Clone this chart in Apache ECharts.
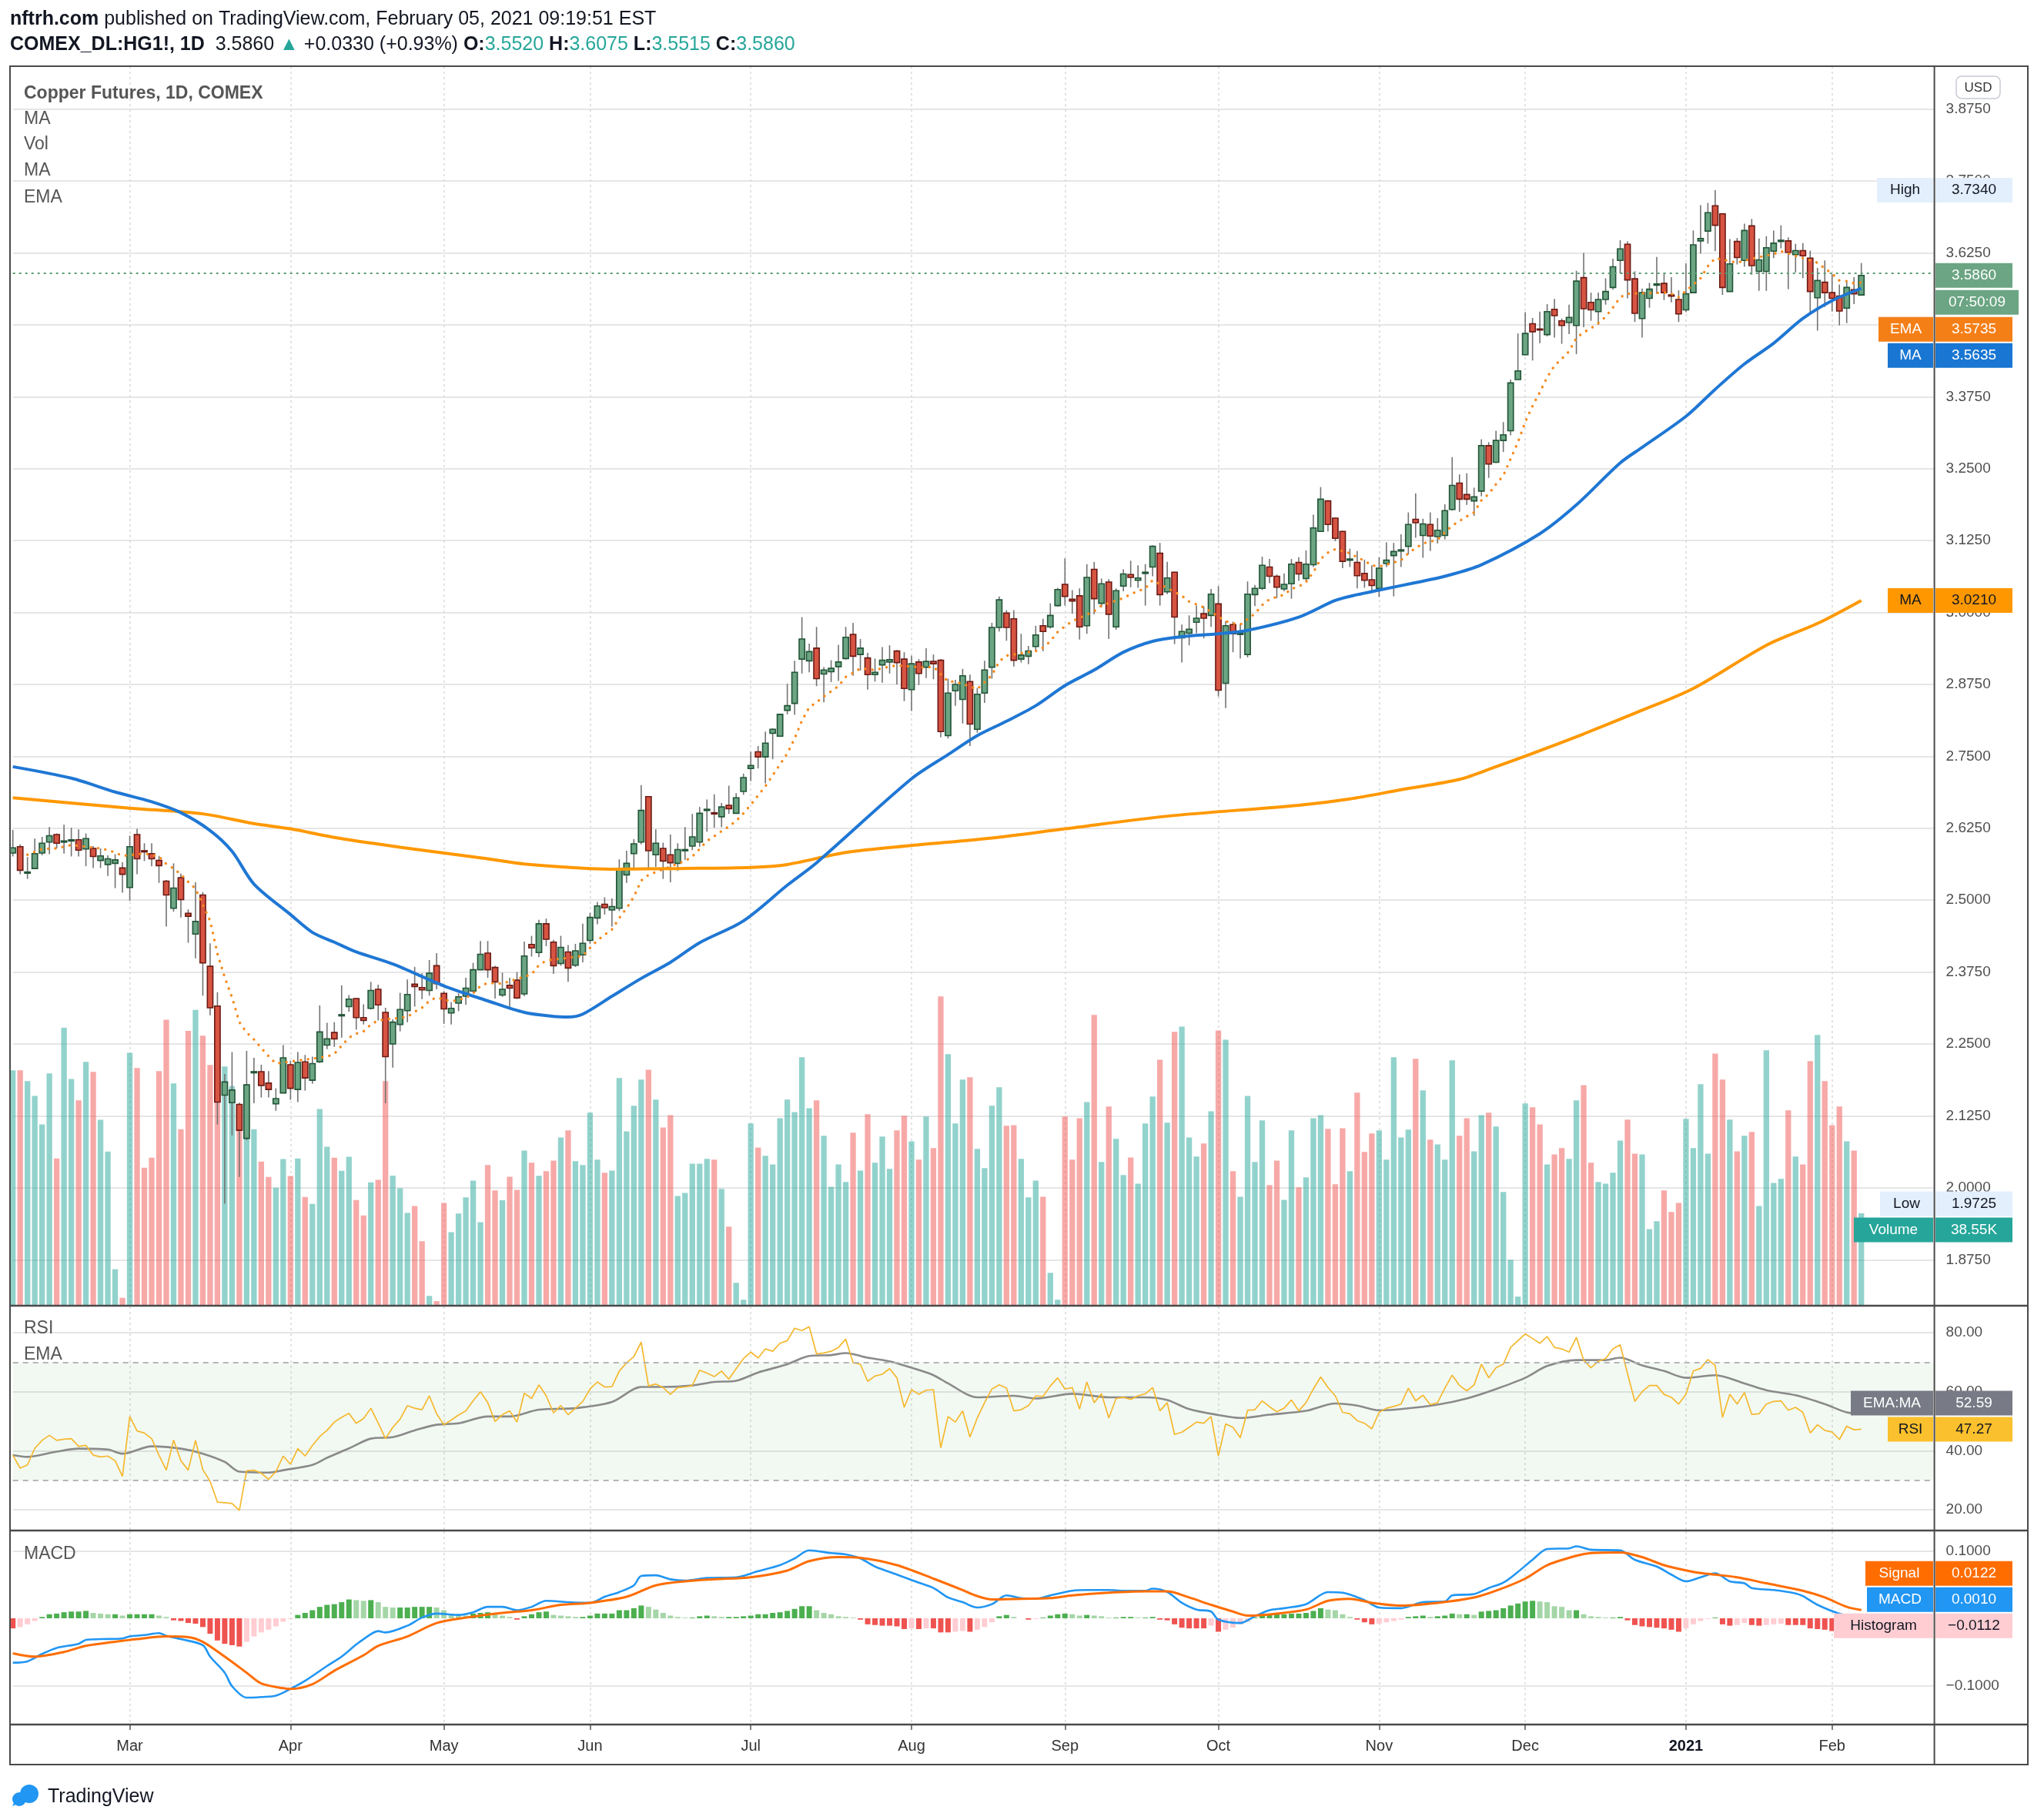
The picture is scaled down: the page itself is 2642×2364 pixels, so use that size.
<!DOCTYPE html>
<html><head><meta charset="utf-8">
<script src="https://cdn.jsdelivr.net/npm/echarts@6/dist/echarts.min.js"></script>
<style>html,body{margin:0;padding:0;background:#fff;}#c{width:2642px;height:2364px;}</style>
</head><body><div id="c"></div>
<script>
// ---------- DATA ----------
const firstDay = '2020-02-07', lastDay = '2021-02-19';
const holidays = ['2020-04-10','2020-05-25','2020-07-03','2020-09-07','2020-11-26','2020-12-25','2021-01-01'];
const monthNames = ['Jan','Feb','Mar','Apr','May','Jun','Jul','Aug','Sep','Oct','Nov','Dec'];

const opens = [
2.582,2.593,2.548,2.555,2.582,2.601,2.614,2.602,2.604,2.605,
2.589,2.590,2.569,2.562,2.564,2.556,2.522,2.614,2.586,2.581,
2.569,2.533,2.486,2.539,2.477,2.441,2.509,2.385,2.316,2.161,
2.148,2.145,2.086,2.200,2.202,2.182,2.146,2.165,2.214,2.171,
2.219,2.187,2.219,2.248,2.270,2.299,2.315,2.329,2.296,2.312,
2.345,2.305,2.250,2.284,2.308,2.354,2.348,2.343,2.386,2.338,
2.304,2.321,2.333,2.342,2.379,2.408,2.383,2.335,2.352,2.361,
2.337,2.423,2.409,2.459,2.427,2.390,2.410,2.387,2.405,2.430,
2.469,2.493,2.483,2.486,2.544,2.581,2.601,2.680,2.579,2.590,
2.579,2.564,2.586,2.594,2.601,2.657,2.652,2.645,2.665,2.651,
2.689,2.729,2.758,2.749,2.790,2.785,2.830,2.842,2.919,2.916,
2.938,2.893,2.897,2.906,2.920,2.962,2.927,2.921,2.892,2.909,
2.914,2.933,2.919,2.866,2.914,2.905,2.915,2.917,2.786,2.864,
2.849,2.880,2.797,2.860,2.905,2.974,2.999,2.989,2.919,2.924,
2.941,2.977,2.975,3.012,3.049,3.023,3.029,2.977,3.075,3.016,
3.053,2.975,3.046,3.066,3.056,3.068,3.079,3.103,3.036,3.070,
2.956,2.964,2.983,2.998,2.995,3.015,2.877,2.979,2.963,2.927,
3.031,3.042,3.079,3.063,3.041,3.050,3.087,3.059,3.083,3.141,
3.194,3.164,3.141,3.092,3.087,3.068,3.057,3.042,3.085,3.099,
3.108,3.115,3.162,3.134,3.153,3.132,3.134,3.179,3.225,3.205,
3.194,3.211,3.290,3.261,3.299,3.316,3.405,3.448,3.502,3.493,
3.483,3.527,3.507,3.504,3.499,3.582,3.539,3.523,3.544,3.565,
3.612,3.640,3.580,3.511,3.546,3.569,3.572,3.552,3.544,3.526,
3.556,3.646,3.663,3.707,3.693,3.558,3.645,3.612,3.672,3.593,
3.593,3.628,3.645,3.646,3.622,3.629,3.616,3.547,3.574,3.556,
3.550,3.529,3.561,3.552];
const highs = [
2.622,2.597,2.575,2.607,2.610,2.627,2.616,2.631,2.626,2.623,
2.616,2.594,2.590,2.578,2.580,2.566,2.612,2.624,2.599,2.599,
2.577,2.535,2.564,2.546,2.484,2.531,2.514,2.425,2.340,2.198,
2.236,2.148,2.238,2.226,2.214,2.203,2.173,2.248,2.221,2.236,
2.231,2.228,2.317,2.287,2.288,2.352,2.335,2.330,2.319,2.358,
2.353,2.313,2.293,2.339,2.362,2.384,2.373,2.396,2.408,2.342,
2.323,2.338,2.365,2.391,2.429,2.429,2.386,2.374,2.365,2.375,
2.428,2.438,2.466,2.468,2.431,2.438,2.422,2.424,2.459,2.478,
2.497,2.505,2.503,2.571,2.586,2.606,2.700,2.681,2.623,2.600,
2.614,2.599,2.627,2.650,2.662,2.675,2.684,2.669,2.699,2.686,
2.720,2.758,2.768,2.793,2.799,2.824,2.876,2.916,2.992,2.946,
2.975,2.905,2.917,2.944,2.975,2.982,2.954,2.930,2.920,2.940,
2.943,2.935,2.931,2.925,2.919,2.938,2.927,2.919,2.885,2.883,
2.902,2.892,2.869,2.916,2.982,3.028,3.004,3.004,2.963,2.942,
2.977,2.989,3.016,3.043,3.094,3.039,3.042,3.084,3.088,3.059,
3.058,3.042,3.075,3.090,3.082,3.084,3.117,3.121,3.088,3.071,
2.979,2.995,3.012,3.011,3.041,3.046,2.985,2.984,2.980,3.054,
3.048,3.097,3.093,3.066,3.068,3.093,3.096,3.108,3.170,3.218,
3.195,3.165,3.142,3.111,3.107,3.092,3.082,3.096,3.122,3.121,
3.136,3.174,3.207,3.163,3.174,3.164,3.188,3.270,3.240,3.242,
3.217,3.301,3.296,3.316,3.331,3.405,3.485,3.522,3.512,3.523,
3.536,3.545,3.511,3.535,3.594,3.625,3.556,3.556,3.581,3.615,
3.647,3.645,3.593,3.563,3.573,3.618,3.591,3.583,3.560,3.607,
3.664,3.708,3.712,3.734,3.694,3.649,3.651,3.676,3.684,3.650,
3.654,3.664,3.673,3.652,3.641,3.642,3.629,3.599,3.612,3.588,
3.570,3.575,3.583,3.6075];
const lows = [
2.576,2.545,2.537,2.555,2.578,2.580,2.590,2.581,2.576,2.576,
2.559,2.556,2.556,2.542,2.521,2.513,2.499,2.545,2.568,2.559,
2.530,2.454,2.480,2.470,2.426,2.399,2.334,2.300,2.110,1.9725,
2.091,2.019,2.083,2.147,2.157,2.157,2.134,2.165,2.153,2.149,
2.169,2.181,2.217,2.241,2.245,2.261,2.306,2.275,2.284,2.310,
2.291,2.147,2.209,2.272,2.288,2.315,2.328,2.334,2.345,2.285,
2.284,2.307,2.318,2.338,2.379,2.365,2.329,2.332,2.314,2.328,
2.333,2.402,2.401,2.420,2.372,2.386,2.358,2.384,2.392,2.424,
2.458,2.475,2.454,2.481,2.530,2.555,2.597,2.556,2.558,2.537,
2.531,2.551,2.570,2.587,2.593,2.619,2.626,2.627,2.650,2.651,
2.683,2.707,2.729,2.703,2.745,2.785,2.823,2.822,2.894,2.896,
2.872,2.844,2.879,2.881,2.918,2.890,2.899,2.866,2.880,2.878,
2.894,2.875,2.846,2.829,2.874,2.886,2.884,2.783,2.781,2.838,
2.807,2.768,2.791,2.843,2.885,2.967,2.951,2.906,2.913,2.910,
2.932,2.933,2.972,3.010,3.012,2.998,2.953,2.963,2.997,3.009,
2.954,2.970,3.037,3.044,3.043,3.012,3.063,3.012,3.032,2.945,
2.913,2.943,2.964,2.955,2.975,2.854,2.834,2.931,2.920,2.922,
3.011,3.039,3.051,3.025,3.037,3.024,3.055,3.054,3.079,3.140,
3.141,3.124,3.077,3.079,3.042,3.043,3.036,3.027,3.079,3.028,
3.079,3.101,3.130,3.095,3.107,3.120,3.127,3.177,3.175,3.187,
3.168,3.202,3.234,3.260,3.279,3.308,3.405,3.447,3.438,3.468,
3.480,3.478,3.467,3.484,3.449,3.496,3.507,3.500,3.535,3.561,
3.589,3.546,3.505,3.478,3.530,3.554,3.543,3.539,3.505,3.522,
3.556,3.624,3.641,3.628,3.552,3.558,3.605,3.601,3.587,3.559,
3.559,3.616,3.633,3.562,3.591,3.581,3.519,3.490,3.531,3.523,
3.499,3.503,3.536,3.5515];
const closes = [
2.591,2.552,2.549,2.581,2.599,2.612,2.599,2.603,2.605,2.587,
2.607,2.576,2.577,2.572,2.570,2.545,2.593,2.572,2.584,2.572,
2.560,2.509,2.521,2.501,2.472,2.463,2.391,2.313,2.149,2.184,
2.170,2.100,2.179,2.202,2.178,2.171,2.155,2.226,2.173,2.218,
2.191,2.216,2.271,2.259,2.259,2.301,2.328,2.296,2.291,2.343,
2.318,2.228,2.288,2.310,2.336,2.350,2.344,2.373,2.355,2.311,
2.312,2.332,2.347,2.379,2.406,2.379,2.358,2.345,2.347,2.330,
2.403,2.417,2.459,2.432,2.386,2.418,2.382,2.412,2.425,2.470,
2.490,2.487,2.489,2.555,2.564,2.598,2.656,2.586,2.599,2.568,
2.565,2.588,2.588,2.610,2.651,2.658,2.651,2.662,2.659,2.678,
2.713,2.734,2.749,2.773,2.797,2.823,2.838,2.896,2.954,2.932,
2.885,2.900,2.903,2.914,2.957,2.924,2.938,2.892,2.896,2.917,
2.918,2.913,2.868,2.911,2.894,2.915,2.911,2.793,2.860,2.875,
2.890,2.806,2.858,2.900,2.974,3.022,2.974,2.917,2.926,2.933,
2.961,2.967,2.995,3.040,3.028,3.020,2.975,3.061,3.024,3.050,
2.997,3.038,3.067,3.061,3.060,3.070,3.115,3.031,3.060,2.992,
2.967,2.971,2.990,2.990,3.032,2.865,2.977,2.963,2.964,3.032,
3.042,3.082,3.063,3.044,3.049,3.084,3.067,3.084,3.147,3.197,
3.153,3.129,3.089,3.093,3.064,3.056,3.047,3.077,3.091,3.106,
3.109,3.153,3.156,3.154,3.133,3.143,3.177,3.221,3.197,3.197,
3.201,3.290,3.258,3.299,3.309,3.399,3.420,3.485,3.488,3.491,
3.523,3.516,3.499,3.513,3.576,3.528,3.526,3.544,3.558,3.601,
3.632,3.578,3.520,3.556,3.562,3.571,3.556,3.550,3.519,3.554,
3.639,3.650,3.695,3.673,3.565,3.606,3.617,3.664,3.603,3.613,
3.634,3.642,3.647,3.626,3.629,3.620,3.558,3.577,3.556,3.546,
3.524,3.565,3.554,3.586];
const volumesK = [
98.6,98.6,94.1,87.9,75.9,97.3,61.6,116.5,95.0,86.0,
102.2,98.0,77.8,64.5,15.0,3.0,106.0,99.6,57.7,61.9,
98.3,119.9,93.1,73.9,115.2,124.0,113.2,100.9,95.0,100.2,
92.0,84.3,88.0,73.9,60.3,53.8,49.3,61.3,54.2,61.6,
45.4,42.5,82.4,66.5,61.9,56.4,62.3,44.1,37.6,51.5,
52.6,94.1,54.4,49.0,38.7,41.6,26.8,3.8,1.6,42.9,
30.6,38.4,45.2,52.3,34.8,58.8,48.1,44.0,53.9,48.4,
64.9,59.8,54.3,56.2,60.7,70.4,73.4,60.4,58.8,80.8,
61.1,55.6,56.5,95.4,73.0,83.7,94.7,98.9,86.3,74.6,
79.8,45.8,47.1,59.4,59.4,61.4,61.1,48.8,32.9,9.3,
2.2,76.3,66.2,62.7,59.1,78.5,86.3,81.1,104.1,82.7,
86.0,71.1,49.7,59.1,51.7,72.4,56.5,80.2,59.8,70.8,
57.2,73.4,79.5,68.8,61.1,79.2,65.9,129.7,105.4,76.3,
94.7,95.7,65.6,57.5,83.7,91.5,75.3,75.6,61.4,45.2,
52.3,45.5,13.5,2.2,79.2,61.1,78.5,85.3,121.9,60.1,
83.4,69.8,54.6,62.0,51.0,76.3,87.6,103.1,76.6,114.8,
117.0,70.4,62.4,67.9,81.4,115.4,111.5,56.2,45.5,87.9,
60.1,77.6,50.4,60.7,44.2,73.4,49.4,53.6,78.5,79.8,
74.0,50.7,74.3,56.2,89.2,64.3,72.1,73.4,61.1,104.1,
70.4,73.7,103.5,90.2,69.5,67.5,61.1,102.8,71.1,78.5,
64.6,79.8,80.8,75.0,47.5,19.0,3.5,84.7,83.1,75.9,
59.1,63.3,65.9,61.4,86.0,92.4,59.8,51.7,51.0,55.6,
69.1,77.9,63.6,63.3,31.9,35.2,48.1,39.1,42.9,78.2,
65.9,92.8,63.6,105.7,94.7,77.9,64.6,71.1,72.7,41.6,
107.0,51.3,53.0,81.8,62.4,59.1,102.5,113.5,94.1,75.6,
83.4,68.8,64.9,38.55];

// EMA (dotted) samples [barIndex, value]
const emaSamples = [[2,2.579],[4,2.589],[6,2.590],[8,2.596],[10,2.593],[12,2.590],[13,2.587],[14,2.583],[15,2.577],[18,2.581],[20,2.576],[21,2.563],[22,2.555],[23,2.545],[24,2.532],[25,2.520],[27,2.464],[28,2.407],[29,2.366],[30,2.331],[31,2.288],[32,2.270],[33,2.258],[34,2.243],[35,2.229],[36,2.216],[43,2.228],[44,2.233],[45,2.247],[46,2.261],[47,2.268],[48,2.272],[49,2.284],[50,2.291],[54,2.297],[55,2.306],[56,2.313],[57,2.325],[58,2.331],[60,2.324],[62,2.330],[63,2.338],[64,2.351],[65,2.356],[67,2.355],[71,2.371],[72,2.387],[73,2.395],[78,2.403],[79,2.417],[80,2.430],[81,2.440],[82,2.449],[83,2.469],[84,2.486],[85,2.506],[86,2.534],[87,2.544],[92,2.568],[93,2.576],[94,2.589],[95,2.603],[96,2.611],[97,2.620],[98,2.628],[99,2.638],[100,2.651],[101,2.666],[102,2.682],[103,2.698],[104,2.717],[105,2.736],[106,2.755],[107,2.781],[108,2.812],[109,2.835],[110,2.844],[111,2.854],[112,2.863],[113,2.872],[114,2.888],[115,2.895],[116,2.903],[118,2.900],[119,2.903],[120,2.906],[121,2.908],[125,2.904],[126,2.906],[128,2.880],[129,2.880],[132,2.867],[134,2.891],[135,2.915],[136,2.925],[140,2.933],[141,2.939],[142,2.950],[143,2.966],[144,2.976],[145,2.985],[148,3.002],[149,3.012],[152,3.025],[153,3.032],[154,3.037],[155,3.042],[156,3.056],[160,3.029],[161,3.019],[162,3.014],[163,3.009],[166,2.985],[167,2.981],[168,2.979],[170,2.998],[171,3.013],[172,3.023],[173,3.027],[174,3.031],[175,3.041],[176,3.045],[177,3.053],[178,3.070],[179,3.093],[180,3.104],[181,3.110],[183,3.103],[184,3.096],[185,3.090],[186,3.082],[187,3.080],[188,3.083],[189,3.087],[190,3.091],[191,3.103],[192,3.112],[193,3.120],[194,3.123],[195,3.127],[197,3.151],[199,3.167],[200,3.174],[201,3.195],[202,3.206],[203,3.223],[204,3.238],[205,3.267],[206,3.296],[207,3.331],[208,3.359],[209,3.383],[210,3.409],[211,3.429],[212,3.441],[213,3.454],[214,3.477],[215,3.487],[216,3.494],[217,3.503],[218,3.514],[219,3.530],[220,3.548],[221,3.554],[226,3.556],[227,3.554],[228,3.548],[231,3.581],[232,3.602],[233,3.616],[236,3.608],[238,3.615],[241,3.623],[242,3.628],[247,3.608],[248,3.598],[249,3.589],[250,3.577],[251,3.576],[252,3.572],[253,3.5735]];
// 50-day MA (blue) samples
const ma50Samples = [[0,2.732],[8,2.712],[14,2.688],[19,2.671],[23,2.652],[27,2.621],[30,2.585],[33,2.528],[38,2.475],[41,2.444],[44,2.427],[47,2.410],[52,2.389],[59,2.351],[65,2.325],[70,2.305],[74,2.298],[76,2.297],[78,2.302],[82,2.333],[86,2.364],[90,2.392],[94,2.426],[100,2.464],[106,2.526],[110,2.565],[123,2.711],[128,2.753],[132,2.786],[136,2.811],[140,2.838],[144,2.873],[148,2.900],[152,2.931],[156,2.950],[160,2.958],[165,2.963],[169,2.969],[176,2.992],[181,3.021],[184,3.031],[187,3.039],[192,3.052],[196,3.063],[201,3.083],[209,3.137],[214,3.187],[220,3.260],[223,3.287],[229,3.341],[233,3.388],[237,3.432],[241,3.468],[245,3.511],[249,3.542],[253,3.5635]];
// 200-day MA (orange) samples
const ma200Samples = [[0,2.678],[16,2.660],[26,2.650],[33,2.633],[38,2.624],[44,2.609],[53,2.592],[59,2.582],[65,2.572],[70,2.563],[79,2.555],[83,2.554],[91,2.555],[101,2.557],[106,2.562],[114,2.583],[123,2.595],[134,2.608],[144,2.624],[158,2.646],[176,2.665],[183,2.676],[190,2.692],[198,2.710],[203,2.732],[208,2.755],[215,2.789],[222,2.825],[230,2.868],[240,2.943],[247,2.981],[253,3.021]];

const rsiValues = [
38.5,34.1,35.2,40.8,43.5,45.2,43.5,43.9,44.1,41.5,
41.8,38.5,37.9,38.2,36.6,31.3,51.6,46.7,46.0,44.1,
38.5,33.4,43.6,36.6,33.4,43.5,33.6,29.6,22.6,22.4,
22.1,19.8,33.2,33.4,32.4,30.3,32.9,38.2,35.4,40.7,
38.2,41.8,44.8,46.9,49.7,51.3,52.7,49.3,50.9,54.4,
49.4,44.1,47.9,50.7,55.3,54.4,53.9,58.6,52.5,48.8,
50.4,52.1,53.5,56.9,60.0,56.3,49.9,52.2,53.5,49.7,
59.5,57.7,62.3,58.6,52.8,55.3,52.2,54.4,56.7,60.9,
63.3,61.6,61.7,67.0,69.8,71.9,76.8,61.9,62.6,61.4,
59.1,61.4,61.6,62.1,67.3,66.3,65.1,67.0,64.2,67.8,
71.2,73.4,71.4,74.5,73.7,76.4,77.3,81.5,80.7,82.0,
72.8,73.1,73.7,75.0,77.8,69.8,69.3,63.5,65.3,65.9,
67.8,64.7,54.7,60.7,59.1,60.5,60.7,41.0,51.6,49.7,
53.5,44.6,51.1,56.3,60.9,62.3,61.2,53.5,53.9,55.3,
58.6,58.4,61.9,64.7,60.9,61.4,54.1,63.3,56.3,59.3,
51.1,57.7,58.1,57.4,58.6,59.3,61.4,53.5,56.3,45.5,
46.3,47.9,49.7,49.3,51.6,38.2,49.1,47.9,44.4,53.7,
53.9,56.9,54.9,53.2,54.4,57.2,53.5,56.3,60.9,65.0,
61.4,58.6,53.0,52.5,50.2,49.3,47.4,53.0,54.4,55.0,
55.8,61.2,56.9,58.8,55.6,56.3,61.2,65.6,62.1,60.3,
62.3,69.3,64.7,68.1,69.3,75.0,77.3,79.6,78.0,76.4,
78.7,75.0,74.5,73.4,78.4,70.7,68.1,70.3,71.2,74.5,
75.9,66.1,56.7,60.0,62.1,62.1,59.1,58.1,55.8,59.1,
67.0,67.9,70.9,68.9,51.3,59.1,55.8,59.7,52.3,52.5,
55.8,56.7,56.9,53.7,54.7,53.0,46.0,48.8,46.9,46.3,
43.8,48.3,47.1,47.27];
const rsiEmaSamples = [[0,38.5],[2,37.9],[6,39.7],[9,40.7],[13,40.4],[15,39.0],[19,41.5],[23,40.7],[26,39.0],[29,36.2],[31,32.9],[35,32.6],[37,33.4],[41,35.2],[43,37.6],[46,40.8],[49,44.1],[52,44.6],[55,46.9],[58,48.8],[61,49.3],[65,51.6],[68,51.6],[72,53.9],[77,54.4],[82,56.5],[86,61.6],[89,61.6],[93,62.1],[96,63.3],[99,63.7],[102,66.5],[106,69.3],[109,72.1],[112,72.4],[114,73.1],[117,71.5],[120,70.3],[123,68.1],[126,65.6],[128,62.8],[132,58.1],[137,58.6],[140,57.7],[145,59.3],[150,58.1],[155,58.1],[158,57.2],[161,54.1],[165,52.1],[168,51.1],[172,52.2],[177,53.5],[181,56.0],[184,55.3],[187,53.7],[190,54.1],[195,55.6],[199,57.7],[203,60.9],[207,64.7],[210,68.7],[214,70.7],[218,70.7],[220,71.5],[223,68.9],[226,67.0],[229,64.7],[233,65.6],[237,62.8],[240,60.5],[244,58.8],[248,55.8],[251,53.0],[253,52.59]];

const macdSamples = [[0,-0.066],[2,-0.064],[4,-0.053],[6,-0.044],[9,-0.038],[10,-0.032],[12,-0.031],[15,-0.030],[16,-0.027],[18,-0.025],[20,-0.022],[21,-0.026],[23,-0.031],[26,-0.040],[27,-0.057],[29,-0.081],[30,-0.101],[32,-0.118],[34,-0.117],[36,-0.115],[38,-0.105],[40,-0.093],[43,-0.071],[45,-0.057],[47,-0.039],[48,-0.031],[50,-0.019],[51,-0.021],[54,-0.011],[56,0.001],[58,0.007],[61,0.005],[63,0.009],[65,0.017],[67,0.017],[69,0.012],[71,0.017],[73,0.026],[76,0.024],[79,0.023],[81,0.032],[83,0.039],[85,0.049],[86,0.063],[88,0.064],[90,0.058],[92,0.056],[95,0.060],[99,0.061],[102,0.070],[105,0.079],[107,0.089],[109,0.101],[112,0.097],[114,0.095],[116,0.089],[118,0.077],[121,0.065],[124,0.053],[126,0.045],[128,0.031],[130,0.024],[132,0.016],[134,0.021],[136,0.034],[138,0.030],[140,0.029],[142,0.034],[145,0.041],[147,0.042],[150,0.042],[152,0.041],[155,0.041],[156,0.044],[158,0.039],[160,0.023],[162,0.013],[164,0.010],[165,-0.002],[168,-0.007],[170,0.003],[172,0.012],[174,0.015],[177,0.021],[180,0.039],[182,0.038],[185,0.027],[187,0.016],[190,0.015],[193,0.024],[196,0.025],[197,0.034],[200,0.036],[202,0.045],[204,0.053],[206,0.069],[208,0.087],[210,0.103],[213,0.104],[214,0.107],[216,0.102],[220,0.101],[222,0.087],[225,0.077],[227,0.065],[229,0.055],[231,0.061],[233,0.067],[235,0.055],[237,0.052],[238,0.045],[241,0.042],[244,0.037],[245,0.033],[247,0.020],[250,0.007],[253,0.0010]];
const signalSamples = [[0,-0.052],[3,-0.057],[7,-0.050],[10,-0.041],[14,-0.035],[17,-0.031],[21,-0.027],[24,-0.028],[26,-0.035],[29,-0.057],[32,-0.081],[34,-0.097],[37,-0.104],[38,-0.105],[41,-0.098],[44,-0.078],[48,-0.055],[50,-0.041],[54,-0.027],[58,-0.007],[62,0.001],[67,0.008],[71,0.012],[75,0.020],[79,0.023],[84,0.032],[88,0.049],[92,0.055],[96,0.058],[101,0.061],[106,0.071],[109,0.085],[113,0.091],[116,0.090],[121,0.079],[126,0.059],[130,0.042],[132,0.033],[134,0.028],[138,0.029],[142,0.030],[145,0.034],[150,0.038],[155,0.040],[158,0.040],[161,0.031],[164,0.020],[167,0.010],[169,0.004],[173,0.007],[177,0.013],[180,0.026],[183,0.029],[186,0.023],[190,0.019],[195,0.023],[200,0.031],[203,0.041],[207,0.059],[210,0.079],[214,0.093],[216,0.097],[220,0.098],[223,0.091],[226,0.079],[230,0.069],[232,0.066],[236,0.061],[240,0.052],[245,0.041],[248,0.031],[251,0.017],[253,0.0122]];
const histValues = [
-0.015,-0.013,-0.009,-0.004,0.002,0.006,0.007,0.009,0.010,0.010,
0.011,0.008,0.007,0.006,0.006,0.004,0.006,0.006,0.006,0.006,
0.004,0.002,-0.003,-0.004,-0.007,-0.008,-0.013,-0.023,-0.033,-0.038,
-0.040,-0.042,-0.035,-0.027,-0.021,-0.017,-0.012,-0.005,-0.001,0.005,
0.008,0.012,0.017,0.020,0.021,0.024,0.028,0.027,0.026,0.027,
0.024,0.017,0.016,0.016,0.016,0.017,0.017,0.017,0.016,0.012,
0.007,0.006,0.004,0.007,0.008,0.009,0.007,0.004,0.002,-0.002,
0.003,0.006,0.009,0.010,0.005,0.004,0.003,0.002,0.002,0.004,
0.007,0.007,0.007,0.012,0.012,0.015,0.019,0.017,0.013,0.008,
0.004,0.002,0.001,0.001,0.003,0.004,0.003,0.002,0.002,0.002,
0.003,0.004,0.006,0.006,0.008,0.009,0.011,0.014,0.018,0.018,
0.012,0.008,0.006,0.003,0.002,0.001,-0.002,-0.009,-0.010,-0.011,
-0.011,-0.012,-0.016,-0.015,-0.016,-0.015,-0.015,-0.021,-0.021,-0.020,
-0.019,-0.020,-0.017,-0.013,-0.006,0.003,0.005,0.002,0.000,-0.002,
-0.001,0.001,0.004,0.006,0.007,0.006,0.004,0.005,0.004,0.003,
0.001,0.001,0.002,0.002,0.001,0.001,0.002,-0.002,-0.003,-0.009,
-0.014,-0.015,-0.015,-0.015,-0.011,-0.020,-0.017,-0.014,-0.009,-0.005,
0.001,0.004,0.006,0.006,0.006,0.007,0.007,0.008,0.011,0.015,
0.013,0.012,0.006,0.002,-0.002,-0.006,-0.009,-0.008,-0.006,-0.004,
-0.002,0.002,0.003,0.004,0.002,0.003,0.004,0.007,0.006,0.006,
0.005,0.010,0.011,0.012,0.015,0.019,0.022,0.025,0.026,0.025,
0.024,0.018,0.017,0.012,0.012,0.006,0.003,0.002,0.001,0.001,
0.002,-0.003,-0.010,-0.012,-0.013,-0.014,-0.015,-0.017,-0.020,-0.015,
-0.009,-0.004,-0.001,0.001,-0.009,-0.011,-0.010,-0.007,-0.010,-0.011,
-0.010,-0.009,-0.008,-0.010,-0.010,-0.010,-0.015,-0.016,-0.017,-0.019,
-0.017,-0.014,-0.012,-0.0112];

const priceAxis = {min: 1.75, max: 4.0, step: 0.125};
const rsiAxis = {min: 0, max: 100, step: 20};
const macdAxis = {min: -0.3, max: 0.3, step: 0.2};
const volumeAxisMaxK = 520.7;

// ---------- BUILD ----------
const dates = [];
for (let t = Date.parse(firstDay + 'T00:00:00Z'); t <= Date.parse(lastDay + 'T00:00:00Z'); t += 86400000) {
  const d = new Date(t), wd = d.getUTCDay();
  if (wd === 0 || wd === 6) continue;
  const s = d.toISOString().slice(0, 10);
  if (holidays.indexOf(s) >= 0) continue;
  dates.push(s);
}
const monthStart = new Set();
for (let i = 1; i < dates.length; i++) if (dates[i].slice(0, 7) !== dates[i - 1].slice(0, 7) && i < opens.length) monthStart.add(i);

const FONT = 'Liberation Sans, Arial, sans-serif';
const UP_FILL = '#6ba583', UP_EDGE = '#225437', DN_FILL = '#d75442', DN_EDGE = '#6b1a14';
const L = 16.7, W = 2495.9;
const grids = [
  {left: L, width: W, top: 48.3, height: 1681.4},   // 0 price
  {left: L, width: W, top: 86, height: 1609},       // 1 volume / main frame
  {left: L, width: W, top: 1654.3, height: 383.4},  // 2 rsi
  {left: L, width: W, top: 1697, height: 290},      // 3 rsi frame
  {left: L, width: W, top: 1840, height: 540},      // 4 macd
  {left: L, width: W, top: 1989, height: 250},      // 5 macd frame
  {left: L, width: W, top: 2239, height: 1}         // 6 date labels
];
const monthSplit = {show: true, interval: (i) => monthStart.has(i), lineStyle: {color: '#d9d9d9', width: 1.5, type: [3, 4]}};
const xAxes = grids.map((g, k) => ({
  type: 'category', gridIndex: k, data: dates, boundaryGap: false,
  axisLine: {show: false}, axisTick: {show: false}, axisLabel: {show: false},
  splitLine: (k === 1 || k === 3 || k === 5) ? monthSplit : {show: false}
}));
xAxes[6].axisTick = {show: true, interval: (i) => monthStart.has(i), length: 7, lineStyle: {color: '#555', width: 1.5}};
xAxes[6].axisLabel = {show: true, interval: (i) => monthStart.has(i), margin: 18, fontSize: 20, fontFamily: FONT, color: '#333',
  formatter: (v) => { const m = +v.slice(5, 7) - 1; return m === 0 ? '{b|' + v.slice(0, 4) + '}' : monthNames[m]; },
  rich: {b: {fontWeight: 'bold', fontSize: 20, fontFamily: FONT, color: '#131722'}}};

const gridLine = {show: true, showMinLine: false, showMaxLine: false, lineStyle: {color: '#e6e6e6', width: 2}};
const axLabel = (fmt) => ({show: true, showMinLabel: false, showMaxLabel: false, margin: 15, fontSize: 19, fontFamily: FONT, color: '#4f4f4f', formatter: fmt});
const minus = (s) => s.replace('-', '\u2212');
const yAxes = [
  {type: 'value', gridIndex: 0, position: 'right', min: priceAxis.min, max: priceAxis.max, interval: priceAxis.step,
   axisLine: {show: false}, axisTick: {show: false}, axisLabel: axLabel((v) => v.toFixed(4)), splitLine: gridLine},
  {type: 'value', gridIndex: 1, min: 0, max: volumeAxisMaxK, show: false, splitLine: {show: false}},
  {type: 'value', gridIndex: 2, position: 'right', min: rsiAxis.min, max: rsiAxis.max, interval: rsiAxis.step,
   axisLine: {show: false}, axisTick: {show: false}, axisLabel: axLabel((v) => v.toFixed(2)), splitLine: gridLine},
  {type: 'value', gridIndex: 3, show: false, splitLine: {show: false}},
  {type: 'value', gridIndex: 4, position: 'right', min: macdAxis.min, max: macdAxis.max, interval: macdAxis.step,
   axisLine: {show: false}, axisTick: {show: false}, axisLabel: axLabel((v) => minus(v.toFixed(4))), splitLine: gridLine},
  {type: 'value', gridIndex: 5, show: false, splitLine: {show: false}},
  {type: 'value', gridIndex: 6, show: false, splitLine: {show: false}}
];

const candleData = opens.map((o, i) => [i, o, closes[i], lows[i], highs[i]]);
const volData = volumesK.map((v, i) => ({value: v, itemStyle: {color: closes[i] >= opens[i] ? 'rgba(38,166,154,0.5)' : 'rgba(239,83,80,0.5)'}}));
const histData = histValues.map((h, i) => {
  const p = i > 0 ? histValues[i - 1] : h;
  const c = h >= 0 ? (h >= p ? '#4caf50' : '#a5d6a7') : (h <= p ? '#ef5350' : '#ffcdd2');
  return {value: h, itemStyle: {color: c}};
});

const series = [
  {type: 'bar', name: 'Vol', xAxisIndex: 1, yAxisIndex: 1, data: volData, barWidth: 7.3, z: 1, silent: true},
  {type: 'custom', name: 'Copper', xAxisIndex: 0, yAxisIndex: 0, data: candleData, z: 3, silent: true, clip: false,
   renderItem: (params, api) => {
     const i = api.value(0), o = api.value(1), c = api.value(2), l = api.value(3), h = api.value(4);
     const pO = api.coord([i, o]), pC = api.coord([i, c]), pL = api.coord([i, l]), pH = api.coord([i, h]);
     const x = pO[0], w = 7.2, up = c >= o;
     const top = Math.min(pO[1], pC[1]), bh = Math.max(Math.abs(pO[1] - pC[1]), 1.6);
     return {type: 'group', children: [
       {type: 'line', shape: {x1: x, y1: pH[1], x2: x, y2: pL[1]}, style: {stroke: '#737373', lineWidth: 1.6}},
       {type: 'rect', shape: {x: x - w / 2, y: top, width: w, height: bh}, style: {fill: up ? UP_FILL : DN_FILL, stroke: up ? UP_EDGE : DN_EDGE, lineWidth: 1.6}}
     ]};
   }},
  {type: 'line', name: 'MA200', xAxisIndex: 0, yAxisIndex: 0, data: ma200Samples, showSymbol: false, smooth: 0.3, z: 4, silent: true,
   lineStyle: {color: '#ff9800', width: 4}},
  {type: 'line', name: 'MA50', xAxisIndex: 0, yAxisIndex: 0, data: ma50Samples, showSymbol: false, smooth: 0.3, z: 4, silent: true,
   lineStyle: {color: '#1f77d4', width: 4}},
  {type: 'line', name: 'EMA', xAxisIndex: 0, yAxisIndex: 0, data: emaSamples, showSymbol: false, z: 5, silent: true,
   lineStyle: {color: '#f68a1e', width: 3.4, type: [0.1, 9.3], cap: 'round'},
   markLine: {silent: true, symbol: ['none', 'none'], label: {show: false}, lineStyle: {color: '#5d9d76', type: [3, 5], width: 1.8},
     data: [{yAxis: closes[closes.length - 1]}]}},
  {type: 'line', name: 'RSI', xAxisIndex: 2, yAxisIndex: 2, data: rsiValues, showSymbol: false, z: 4, silent: true,
   lineStyle: {color: '#f5b82e', width: 1.7},
   markArea: {silent: true, itemStyle: {color: 'rgba(76,175,80,0.07)'}, data: [[{yAxis: 30}, {yAxis: 70}]]},
   markLine: {silent: true, symbol: ['none', 'none'], label: {show: false}, lineStyle: {color: '#b5b5b5', type: [7, 6], width: 2},
     data: [{yAxis: 70}, {yAxis: 30}]}},
  {type: 'line', name: 'RSI EMA', xAxisIndex: 2, yAxisIndex: 2, data: rsiEmaSamples, showSymbol: false, smooth: 0.3, z: 3, silent: true,
   lineStyle: {color: '#8a8a8a', width: 2.6}},
  {type: 'bar', name: 'Histogram', xAxisIndex: 4, yAxisIndex: 4, data: histData, barWidth: 7, z: 2, silent: true},
  {type: 'line', name: 'MACD', xAxisIndex: 4, yAxisIndex: 4, data: macdSamples, showSymbol: false, smooth: 0.3, z: 4, silent: true,
   lineStyle: {color: '#2196f3', width: 2.6}},
  {type: 'line', name: 'Signal', xAxisIndex: 4, yAxisIndex: 4, data: signalSamples, showSymbol: false, smooth: 0.3, z: 4, silent: true,
   lineStyle: {color: '#ff6d00', width: 3}}
];

const txt = (x, y, text, size, color, weight, align, z) => ({type: 'text', x: x, y: y, z: z || 50,
  style: {text: text, fill: color, fontSize: size, fontFamily: FONT, fontWeight: weight || 'normal', align: align || 'left', verticalAlign: 'middle'}});
const hline = (x1, x2, y, color, w) => ({type: 'line', z: 60, shape: {x1: x1, y1: y, x2: x2, y2: y}, style: {stroke: color, lineWidth: w}});

const graphics = [
  {type: 'text', x: 13, y: 25, z: 50, style: {text: '{b|nftrh.com} published on TradingView.com, February 05, 2021 09:19:51 EST',
    fontSize: 25, fontFamily: FONT, fill: '#131722', verticalAlign: 'middle',
    rich: {b: {fontSize: 25, fontFamily: FONT, fontWeight: 'bold', fill: '#131722'}}}},
  {type: 'text', x: 13, y: 58, z: 50, style: {text: '{b|COMEX_DL:HG1!, 1D}  3.5860 {t|\u25B2} +0.0330 (+0.93%) {b|O:}{t|3.5520} {b|H:}{t|3.6075} {b|L:}{t|3.5515} {b|C:}{t|3.5860}',
    fontSize: 25, fontFamily: FONT, fill: '#131722', verticalAlign: 'middle',
    rich: {b: {fontSize: 25, fontFamily: FONT, fontWeight: 'bold', fill: '#131722'}, t: {fontSize: 25, fontFamily: FONT, fill: '#26a69a'}}}},
  txt(31, 122, 'Copper Futures, 1D, COMEX', 23, '#555', 'bold'),
  txt(31, 155, 'MA', 23, '#555'), txt(31, 188, 'Vol', 23, '#555'), txt(31, 222, 'MA', 23, '#555'), txt(31, 257, 'EMA', 23, '#555'),
  txt(31, 1726, 'RSI', 23, '#555'), txt(31, 1760, 'EMA', 23, '#555'), txt(31, 2019, 'MACD', 23, '#555'),
  {type: 'rect', z: 60, shape: {x: 13, y: 86, width: 2621, height: 2206}, style: {fill: 'none', stroke: '#4a4a4a', lineWidth: 2}},
  {type: 'line', z: 60, shape: {x1: 2512.6, y1: 86, x2: 2512.6, y2: 2292}, style: {stroke: '#4a4a4a', lineWidth: 2}},
  hline(13, 2634, 1696, '#4a4a4a', 2.5), hline(13, 2634, 1988, '#4a4a4a', 2.5), hline(13, 2634, 2240, '#4a4a4a', 2.5),
  {type: 'rect', z: 60, shape: {x: 2541, y: 99, width: 57, height: 29, r: 7}, style: {fill: '#fff', stroke: '#c8cbd3', lineWidth: 1.5}},
  txt(2569.5, 114, 'USD', 17, '#333', 'normal', 'center', 70),
  {type: 'circle', z: 50, shape: {cx: 25, cy: 2337, r: 9}, style: {fill: '#2196f3'}},
  {type: 'circle', z: 50, shape: {cx: 38, cy: 2330, r: 12}, style: {fill: '#2196f3'}},
  {type: 'polygon', z: 50, shape: {points: [[16, 2346], [30, 2340], [22, 2333]]}, style: {fill: '#2196f3'}},
  txt(62, 2334, 'TradingView', 25, '#131722')
];

const chart = echarts.init(document.getElementById('c'), null, {renderer: 'canvas'});
chart.setOption({animation: false, backgroundColor: '#fff', grid: grids, xAxis: xAxes, yAxis: yAxes, series: series, graphic: graphics});

// ---------- value tags anchored through the axes ----------
const yOf = (axis, v) => chart.convertToPixel({yAxisIndex: axis}, v);
const H = 32;
function tag(yc, leftX, leftText, value, bg, fg, valW) {
  const els = [];
  if (leftText) {
    els.push({type: 'rect', z: 100, shape: {x: leftX, y: yc - H / 2, width: 2511 - leftX, height: H}, style: {fill: bg}});
    els.push({type: 'text', z: 101, x: (leftX + 2511) / 2, y: yc, style: {text: leftText, fill: fg, fontSize: 19, fontFamily: FONT, align: 'center', verticalAlign: 'middle'}});
  }
  const vw = valW || 100;
  els.push({type: 'rect', z: 100, shape: {x: 2514, y: yc - H / 2, width: vw, height: H}, style: {fill: bg}});
  els.push({type: 'text', z: 101, x: 2514 + vw / 2, y: yc, style: {text: value, fill: fg, fontSize: 19, fontFamily: FONT, align: 'center', verticalAlign: 'middle'}});
  return els;
}
const last = closes.length - 1;
const yPrice = yOf(0, closes[last]);
const yLow = yOf(0, 1.9725);
const yRsi = yOf(2, rsiValues[last]);
const yHist = yOf(4, histValues[last]);
const tags = [].concat(
  tag(yOf(0, 3.734), 2438, 'High', '3.7340', '#e3effd', '#131722'),
  tag(yPrice, null, null, closes[last].toFixed(4), UP_FILL, '#fff'),
  tag(yPrice + 35, null, null, '07:50:09', UP_FILL, '#fff', 108),
  tag(yPrice + 70, 2440, 'EMA', '3.5735', '#f57f17', '#fff'),
  tag(yPrice + 104, 2452, 'MA', '3.5635', '#1976d2', '#fff'),
  tag(yOf(0, 3.021), 2452, 'MA', '3.0210', '#ff9800', '#131722'),
  tag(yLow, 2442, 'Low', '1.9725', '#e3effd', '#131722'),
  tag(yLow + 34, 2408, 'Volume', volumesK[last].toFixed(2) + 'K', '#26a69a', '#fff'),
  tag(yRsi - 34, 2404, 'EMA:MA', '52.59', '#787b86', '#fff'),
  tag(yRsi, 2452, 'RSI', rsiValues[last].toFixed(2), '#fbc02d', '#131722'),
  tag(yHist - 68, 2423, 'Signal', '0.0122', '#ff6d00', '#fff'),
  tag(yHist - 34, 2425, 'MACD', '0.0010', '#2196f3', '#fff'),
  tag(yHist, 2382, 'Histogram', minus(histValues[last].toFixed(4)), '#ffcdd2', '#131722')
);
chart.setOption({graphic: graphics.concat(tags)});
</script>
</body></html>
